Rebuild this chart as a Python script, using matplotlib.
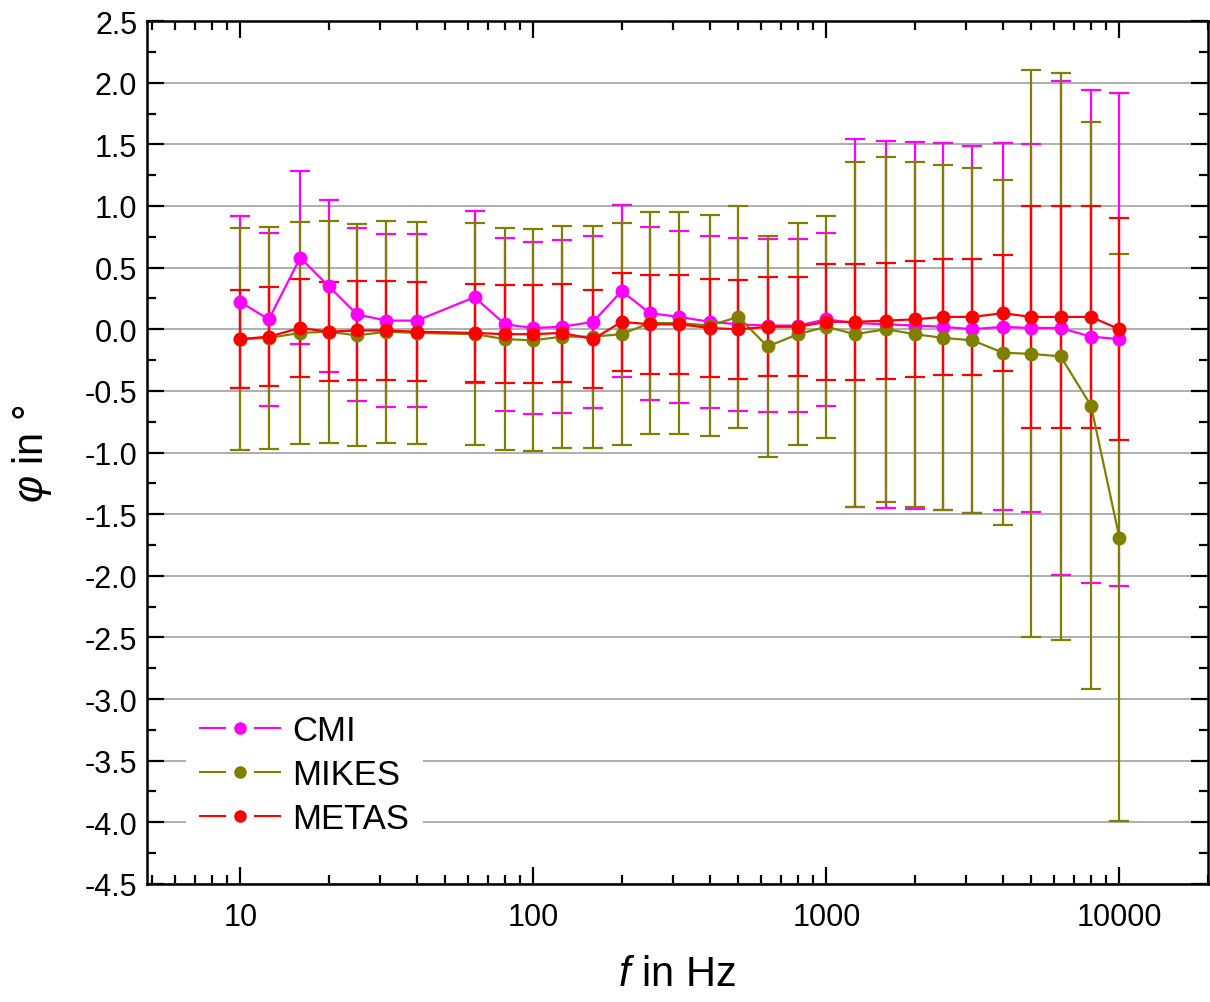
import matplotlib
matplotlib.use('Agg')
import matplotlib.pyplot as plt
from matplotlib.lines import Line2D
from matplotlib.ticker import MultipleLocator, FixedLocator, LogLocator, NullFormatter

plt.rcParams['font.family'] = ['Liberation Sans', 'DejaVu Sans']
plt.rcParams['mathtext.fontset'] = 'custom'
plt.rcParams['mathtext.rm'] = 'Liberation Sans'
plt.rcParams['mathtext.it'] = 'Liberation Sans:italic'
plt.rcParams['axes.unicode_minus'] = False

# Frequenzen (Hz)
freq = [10, 12.5, 16, 20, 25, 31.5, 40, 63, 80, 100, 125, 160, 200, 250, 315,
        400, 500, 630, 800, 1000, 1250, 1600, 2000, 2500, 3150, 4000, 5000,
        6300, 8000, 10000]

# CMI
cmi = [0.22, 0.08, 0.58, 0.35, 0.12, 0.07, 0.07, 0.26, 0.04, 0.01, 0.02, 0.06,
       0.31, 0.13, 0.10, 0.06, 0.04, 0.03, 0.03, 0.08, 0.05, 0.04, 0.03, 0.02,
       0.00, 0.02, 0.01, 0.01, -0.06, -0.08]
cmi_u = [0.70, 0.70, 0.70, 0.70, 0.70, 0.70, 0.70, 0.70, 0.70, 0.70, 0.70, 0.70,
         0.70, 0.70, 0.70, 0.70, 0.70, 0.70, 0.70, 0.70, 1.49, 1.49, 1.49, 1.49,
         1.49, 1.49, 1.49, 2.00, 2.00, 2.00]

# MIKES
mikes = [-0.08, -0.07, -0.03, -0.02, -0.05, -0.02, -0.03, -0.04, -0.08, -0.09,
         -0.06, -0.06, -0.04, 0.05, 0.05, 0.03, 0.10, -0.14, -0.04, 0.02,
         -0.04, 0.00, -0.04, -0.07, -0.09, -0.19, -0.20, -0.22, -0.62, -1.69]
mikes_u = [0.90, 0.90, 0.90, 0.90, 0.90, 0.90, 0.90, 0.90, 0.90, 0.90, 0.90,
           0.90, 0.90, 0.90, 0.90, 0.90, 0.90, 0.90, 0.90, 0.90, 1.40, 1.40,
           1.40, 1.40, 1.40, 1.40, 2.30, 2.30, 2.30, 2.30]

# METAS
metas = [-0.08, -0.06, 0.01, -0.02, -0.01, -0.01, -0.02, -0.03, -0.04, -0.04,
         -0.03, -0.08, 0.06, 0.04, 0.04, 0.01, 0.00, 0.02, 0.02, 0.06, 0.06,
         0.07, 0.08, 0.10, 0.10, 0.13, 0.10, 0.10, 0.10, 0.00]
metas_u = [0.40, 0.40, 0.40, 0.40, 0.40, 0.40, 0.40, 0.40, 0.40, 0.40, 0.40,
           0.40, 0.40, 0.40, 0.40, 0.40, 0.40, 0.40, 0.40, 0.47, 0.47, 0.47,
           0.47, 0.47, 0.47, 0.47, 0.90, 0.90, 0.90, 0.90]

series = [('CMI', cmi, cmi_u, '#ff00ff'),
          ('MIKES', mikes, mikes_u, '#808000'),
          ('METAS', metas, metas_u, '#ff0000')]

fig = plt.figure(figsize=(12.1, 10.03), dpi=100)
ax = fig.add_axes([0.1215, 0.1177, 0.8765, 0.8603])

# Fehlerbalken zuerst, dann Linien mit Punkten darüber
for i, (name, y, u, c) in enumerate(series):
    ax.errorbar(freq, y, yerr=u, fmt='none', ecolor=c, elinewidth=1.6,
                capsize=7, capthick=1.6, zorder=2 + i * 0.1)
for i, (name, y, u, c) in enumerate(series):
    ax.plot(freq, y, '-o', color=c, lw=1.6, markersize=9, zorder=4 + i * 0.1)

ax.set_xscale('log')
ax.set_xlim(4.8, 20000)
ax.set_ylim(-4.5, 2.5)
ax.xaxis.set_major_locator(FixedLocator([10, 100, 1000, 10000]))
ax.set_xticklabels(['10', '100', '1000', '10000'])
ax.xaxis.set_minor_locator(LogLocator(base=10, subs=range(2, 10)))
ax.xaxis.set_minor_formatter(NullFormatter())
ax.yaxis.set_major_locator(MultipleLocator(0.5))
ax.yaxis.set_minor_locator(MultipleLocator(0.25))
ax.yaxis.set_major_formatter(plt.FormatStrFormatter('%.1f'))

ax.grid(axis='y', which='major', color='#a8a8a8', lw=1.3, zorder=0)
ax.set_axisbelow(True)
ax.tick_params(which='both', direction='in', top=True, right=True,
               labelsize=22, width=1.6)
ax.tick_params(which='major', length=12)
ax.tick_params(which='minor', length=6.5)
ax.tick_params(axis='x', which='major', pad=13)
ax.tick_params(axis='y', which='major', pad=7)
for s in ax.spines.values():
    s.set_linewidth(1.8)

ax.set_xlabel(r'$\mathit{f}$ in Hz', fontsize=30, labelpad=16)
ax.set_ylabel(r'$\mathit{φ}$ in °', fontsize=30, labelpad=22)

# Legende: Linie - Punkt - Linie
handles = []
for name, y, u, c in series:
    ln = Line2D([], [], color=c, lw=1.5, dashes=(13, 13.4))
    mk = Line2D([], [], color=c, marker='o', markersize=8, linestyle='none')
    handles.append((ln, mk))
leg = ax.legend(handles, [s[0] for s in series], loc='lower left',
                bbox_to_anchor=(0.02, 0.02), fontsize=25, frameon=True,
                handlelength=2.36, handletextpad=0.32, labelspacing=0.32,
                borderpad=0.4)
leg.get_frame().set_facecolor('white')
leg.get_frame().set_edgecolor('none')
leg.get_frame().set_alpha(1)
leg.set_zorder(10)

fig.savefig('out.png', dpi=100)
